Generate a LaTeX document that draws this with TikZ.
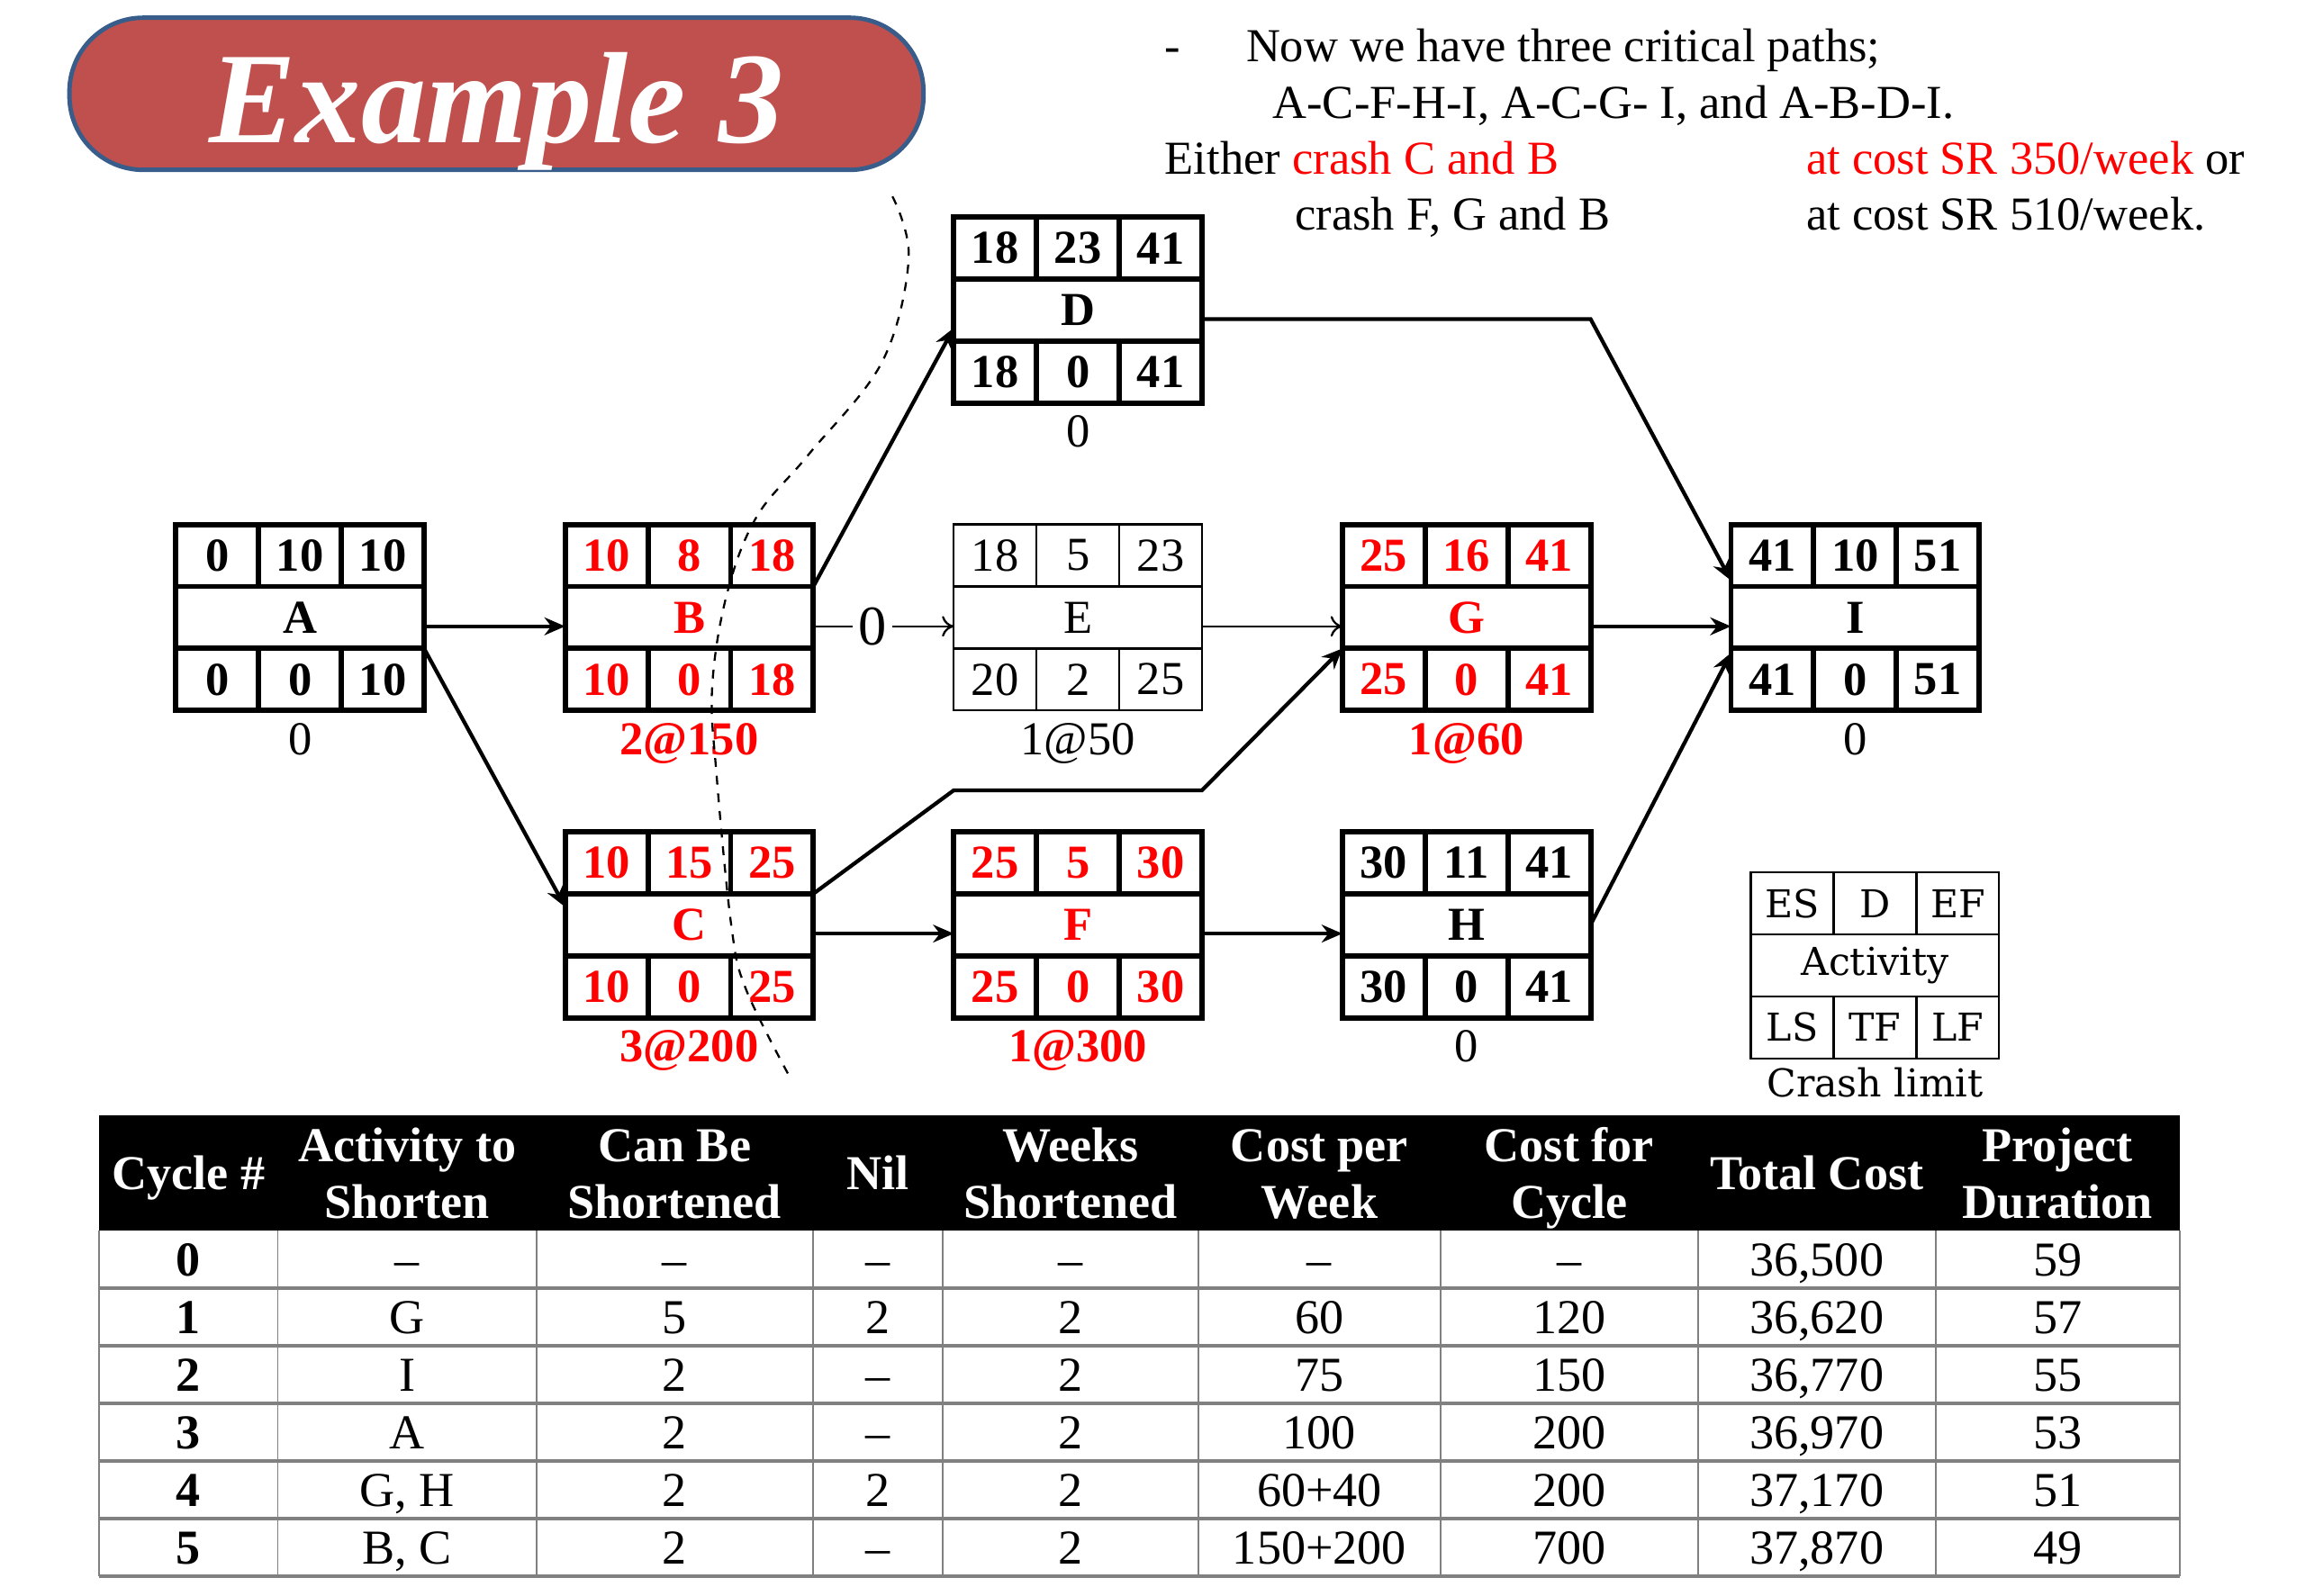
\documentclass[tikz,border=0pt]{standalone}
\usepackage{fontspec}
\setmainfont{Liberation Serif}
\newfontfamily\keyfont{DejaVu Serif}
\usepackage{tikz}
\usetikzlibrary{arrows.meta,positioning}
\definecolor{titlered}{RGB}{192,80,77}
\definecolor{titleblue}{RGB}{56,93,138}

% one activity box: name, centre, style, ES, D, EF, LS, TF, LF
\newcommand{\actbox}[9]{%
  \node[midcell,#3] (#1) at (#2) {#1};
  \node[boxcell,#3,anchor=south west] (#1-es) at (#1.north west) {#4};
  \node[boxcell,#3,anchor=south] (#1-d) at (#1.north) {#5};
  \node[boxcell,#3,anchor=south east] (#1-ef) at (#1.north east) {#6};
  \node[boxcell,#3,anchor=north west] (#1-ls) at (#1.south west) {#7};
  \node[boxcell,#3,anchor=north] (#1-tf) at (#1.south) {#8};
  \node[boxcell,#3,anchor=north east] (#1-lf) at (#1.south east) {#9};
}

\begin{document}
\begin{tikzpicture}[x=0.5pt, y=-0.5pt,
    boxcell/.style={draw, inner sep=0pt, outer sep=0pt, minimum width=28pt, minimum height=21pt},
    midcell/.style={boxcell, minimum width=84pt},
    critbox/.style={line width=1.8pt, font=\bfseries\fontsize{16}{18}\selectfont},
    redbox/.style={critbox, text=red},
    thinbox/.style={line width=0.7pt, font=\fontsize{16}{18}\selectfont},
    keybox/.style={line width=0.7pt, font=\keyfont\fontsize{13}{15}\selectfont},
    crashlab/.style={inner sep=1pt, font=\fontsize{16}{18}\selectfont},
    redlab/.style={inner sep=1pt, text=red, font=\bfseries\fontsize{16}{18}\selectfont},
    keylab/.style={inner sep=1pt, font=\keyfont\fontsize{13}{15}\selectfont},
    zerolab/.style={fill=white, inner xsep=2pt, inner ysep=0pt, font=\fontsize{19}{21}\selectfont},
    link/.style={line width=1.3pt, -{Stealth[length=7pt,width=6pt]}},
    thinlink/.style={line width=0.7pt, -{To[length=4pt,width=7pt]}},
    cutline/.style={line width=0.7pt, dashed},
    toptext/.style={inner sep=0pt, anchor=base west, font=\fontsize{16}{18}\selectfont},
    titlebox/.style={draw=titleblue, fill=titlered, line width=1.5pt, rounded corners=25pt,
      minimum width=289pt, minimum height=51.5pt, inner sep=0pt, text=white,
      text height=33pt, text depth=0pt, font=\bfseries\itshape\fontsize{44}{44}\selectfont},
    headtext/.style={text=white, inner sep=0pt, text height=11.5pt, text depth=0pt,
      font=\bfseries\fontsize{16.5}{19}\selectfont},
    bodytext/.style={inner sep=0pt, text height=11.5pt, text depth=0pt, font=\fontsize{16.5}{19}\selectfont},
    gridline/.style={draw=gray, line width=0.6pt}]

    \useasboundingbox (0,0) rectangle (1560,1080);

    % title and notes
    \node[titlebox] (title) at (336,63.5) {Example 3};
    \node[toptext] (dash) at (788,42) {-};
    \node[toptext] (paths) at (843,42) {Now we have three critical paths;};
    \node[toptext] (list) at (861,80) {A-C-F-H-I, A-C-G- I, and A-B-D-I.};
    \node[toptext] (either) at (788,118) {Either \textcolor{red}{crash C and B}};
    \node[toptext] (cost1) at (1222,118) {\textcolor{red}{at cost SR 350/week} or};
    \node[toptext] (crash2) at (876,156) {crash F, G and B};
    \node[toptext] (cost2) at (1222,156) {at cost SR 510/week.};

    % network
    \actbox{A}{203,418}{critbox}{0}{10}{10}{0}{0}{10}
    \actbox{B}{466.5,418}{redbox}{10}{8}{18}{10}{0}{18}
    \actbox{C}{466.5,626}{redbox}{10}{15}{25}{10}{0}{25}
    \actbox{D}{729.5,210}{critbox}{18}{23}{41}{18}{0}{41}
    \actbox{E}{729.5,418}{thinbox}{18}{5}{23}{20}{2}{25}
    \actbox{F}{729.5,626}{redbox}{25}{5}{30}{25}{0}{30}
    \actbox{G}{992.5,418}{redbox}{25}{16}{41}{25}{0}{41}
    \actbox{H}{992.5,626}{critbox}{30}{11}{41}{30}{0}{41}
    \actbox{I}{1255.5,418}{critbox}{41}{10}{51}{41}{0}{51}
    \actbox{Activity}{1269,653.5}{keybox}{ES}{D}{EF}{LS}{TF}{LF}

    \node[crashlab] (A-cl) [below=3pt of A-tf] {0};
    \node[redlab] (B-cl) [below=3pt of B-tf] {2@150};
    \node[redlab] (C-cl) [below=3pt of C-tf] {3@200};
    \node[crashlab] (D-cl) [below=3pt of D-tf] {0};
    \node[crashlab] (E-cl) [below=3pt of E-tf] {1@50};
    \node[redlab] (F-cl) [below=3pt of F-tf] {1@300};
    \node[redlab] (G-cl) [below=3pt of G-tf] {1@60};
    \node[crashlab] (H-cl) [below=3pt of H-tf] {0};
    \node[crashlab] (I-cl) [below=3pt of I-tf] {0};
    \node[keylab] (Activity-cl) [below=2pt of Activity-tf] {Crash limit};

    \draw[link] ([yshift=-3pt]A.east) -- ([yshift=-3pt]B.west);
    \draw[link] (A.south east) -- ([yshift=-4.5pt]C.north west);
    \draw[link] (B.north east) -- ([yshift=-6pt]D.west);
    \draw[thinlink] ([yshift=-3pt]B.east) -- node[zerolab, pos=0.42] {0} ([yshift=-3pt]E.west);
    \draw[link] ([yshift=-3pt]D.east) -- ([yshift=-3pt]D.east -| G.east) -- ([yshift=2pt]I.north west);
    \draw[thinlink] ([yshift=-3pt]E.east) -- ([yshift=-3pt]G.west);
    \draw[link] (C.north east) -- ([yshift=14pt]F-es.north west) -- ([yshift=14pt]F-ef.north east) -- (G.south west);
    \draw[link] ([yshift=-3pt]C.east) -- ([yshift=-3pt]F.west);
    \draw[link] ([yshift=-3pt]F.east) -- ([yshift=-3pt]H.west);
    \draw[link] ([yshift=-3pt]G.east) -- ([yshift=-3pt]I.west);
    \draw[link] (H.east) -- ([yshift=-1.5pt]I.south west);

    % cut through B and C
    \draw[cutline] plot[smooth, tension=0.6] coordinates {(604,133) (615,175) (597,245) (547,308) (512,350)
      (492,402) (482,465) (485,525) (495,627) (505,670) (535,730)};

    % crashing table
    \fill[black] (67,755) rectangle (1475,833);
    \node[headtext] (h1) at (127.5,794) {Cycle \#};
    \node[headtext] (h2a) at (275.5,775) {Activity to};
    \node[headtext] (h2b) at (275.5,813) {Shorten};
    \node[headtext] (h3a) at (456.5,775) {Can Be};
    \node[headtext] (h3b) at (456.5,813) {Shortened};
    \node[headtext] (h4) at (594,794) {Nil};
    \node[headtext] (h5a) at (724.5,775) {Weeks};
    \node[headtext] (h5b) at (724.5,813) {Shortened};
    \node[headtext] (h6a) at (893,775) {Cost per};
    \node[headtext] (h6b) at (893,813) {Week};
    \node[headtext] (h7a) at (1062,775) {Cost for};
    \node[headtext] (h7b) at (1062,813) {Cycle};
    \node[headtext] (h8) at (1229.5,794) {Total Cost};
    \node[headtext] (h9a) at (1392.5,775) {Project};
    \node[headtext] (h9b) at (1392.5,813) {Duration};

    \foreach \yy in {872,911,950,989,1028,1067}
        \draw[gridline, line width=1.2pt] (67,\yy) -- (1475,\yy);
    \foreach \xx in {67,188,363,550,638,811,975,1149,1310,1475}
        \draw[gridline] (\xx,833) -- (\xx,1067);

    \foreach \cyc/\act/\can/\nil/\wk/\per/\cst/\tot/\dur [count=\rr from 0] in {
        0/\textendash/\textendash/\textendash/\textendash/\textendash/\textendash/{36,500}/59,
        1/G/5/2/2/60/120/{36,620}/57,
        2/I/2/\textendash/2/75/150/{36,770}/55,
        3/A/2/\textendash/2/100/200/{36,970}/53,
        4/{G, H}/2/2/2/60+40/200/{37,170}/51,
        5/{B, C}/2/\textendash/2/150+200/700/{37,870}/49}
    {
        \pgfmathsetmacro{\ry}{852.5+39*\rr}
        \node[bodytext, font=\bfseries\fontsize{16.5}{19}\selectfont] (cyc\rr) at (127.5,\ry) {\cyc};
        \node[bodytext] (act\rr) at (275.5,\ry) {\act};
        \node[bodytext] (can\rr) at (456.5,\ry) {\can};
        \node[bodytext] (nil\rr) at (594,\ry) {\nil};
        \node[bodytext] (wk\rr) at (724.5,\ry) {\wk};
        \node[bodytext] (per\rr) at (893,\ry) {\per};
        \node[bodytext] (cst\rr) at (1062,\ry) {\cst};
        \node[bodytext] (tot\rr) at (1229.5,\ry) {\tot};
        \node[bodytext] (dur\rr) at (1392.5,\ry) {\dur};
    }
\end{tikzpicture}
\end{document}
